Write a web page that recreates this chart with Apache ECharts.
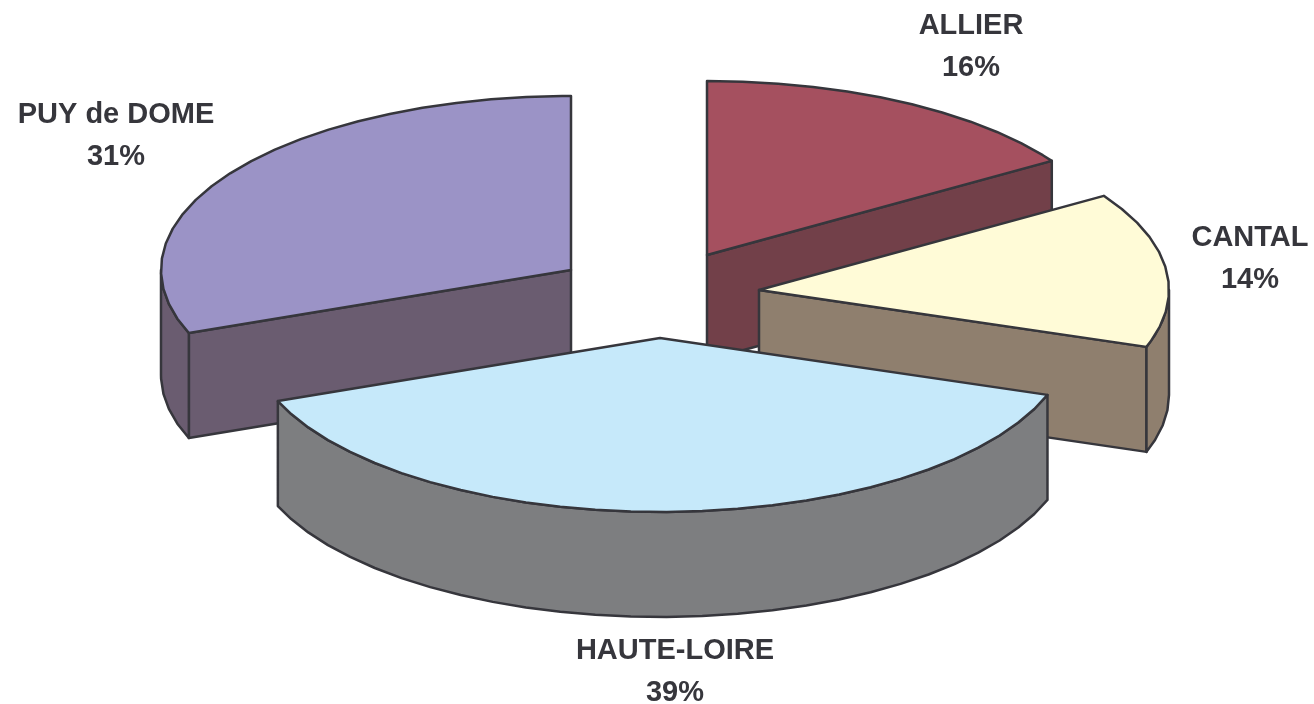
<!DOCTYPE html>
<html>
<head>
<meta charset="utf-8">
<title>Répartition par département</title>
<script src="https://cdn.jsdelivr.net/npm/echarts@6/dist/echarts.min.js"></script>
<style>
  html, body { margin: 0; padding: 0; background: #fff; }
  #chart { width: 1314px; height: 704px; }
</style>
</head>
<body>
<div id="chart"></div>
<script>
// data, clockwise from 12 o'clock
const sliceNames = ['ALLIER', 'CANTAL', 'HAUTE-LOIRE', 'PUY de DOME'];
const sliceValues = [15.9, 14.4, 38.8, 30.9];

// styles
const topColors = ['#a5505f', '#fffbd7', '#c6e9fa', '#9b93c6'];
const sideColors = ['#724049', '#8f7f6e', '#7d7e80', '#6a5c70'];
const edgeColor = '#36363c';

// layout: apex of each exploded slice, and where its label goes (px)
const apexX = [707, 759, 660, 571];
const apexY = [255, 290, 338, 270];
const labelX = [971, 1250, 675, 116];
const labelY = [26, 238, 651, 115];
const radiusX = 410;
const radiusY = 174;
const depth = 105;
const arcStep = 5; // degrees per outline segment, the original outline is faceted
const lineGap = 42;
const drawOrder = [3, 0, 1, 2]; // back to front

const total = sliceValues.reduce((a, b) => a + b, 0);
const startAngles = [];
let sum = 0;
sliceValues.forEach(v => {
  startAngles.push(sum / total * 360);
  sum += v;
});

function arcPoints(i, from, to, dy) {
  const pts = [];
  const push = deg => {
    const r = deg * Math.PI / 180;
    pts.push([apexX[i] + radiusX * Math.sin(r), apexY[i] - radiusY * Math.cos(r) + dy]);
  };
  for (let a = from; a < to; a += arcStep) push(a);
  push(to);
  return pts;
}

function poly(api, pts, fill) {
  return {
    type: 'polygon',
    shape: { points: pts.map(p => api.coord(p)) },
    style: { fill: fill, stroke: edgeColor, lineWidth: 2.5, lineJoin: 'round' }
  };
}

function renderSlice(params, api) {
  const i = api.value(0);
  const start = startAngles[i];
  const end = start + sliceValues[i] / total * 360;
  const apex = [apexX[i], apexY[i]];
  const children = [];

  // cut faces turned towards the viewer
  if (end < 180) {
    const p = arcPoints(i, end, end, 0)[0];
    children.push(poly(api, [apex, p, [p[0], p[1] + depth], [apex[0], apex[1] + depth]], sideColors[i]));
  }
  if (start > 180) {
    const p = arcPoints(i, start, start, 0)[0];
    children.push(poly(api, [apex, p, [p[0], p[1] + depth], [apex[0], apex[1] + depth]], sideColors[i]));
  }

  // outer wall, only the front half of the rim shows
  const wallFrom = Math.max(start, 90);
  const wallTo = Math.min(end, 270);
  if (wallFrom < wallTo) {
    const upper = arcPoints(i, wallFrom, wallTo, 0);
    const lower = arcPoints(i, wallFrom, wallTo, depth).reverse();
    children.push(poly(api, upper.concat(lower), sideColors[i]));
  }

  // top face
  children.push(poly(api, [apex].concat(arcPoints(i, start, end, 0)), topColors[i]));

  // label
  [sliceNames[i], Math.round(sliceValues[i] / total * 100) + '%'].forEach((t, k) => {
    const c = api.coord([labelX[i], labelY[i] + k * lineGap]);
    children.push({
      type: 'text',
      style: {
        text: t,
        x: c[0],
        y: c[1],
        fill: edgeColor,
        font: 'bold 29px "Liberation Sans", Arial, sans-serif',
        align: 'center',
        verticalAlign: 'middle'
      }
    });
  });

  return { type: 'group', children: children };
}

const chart = echarts.init(document.getElementById('chart'));
chart.setOption({
  animation: false,
  backgroundColor: '#fff',
  grid: { left: 0, right: 0, top: 0, bottom: 0 },
  xAxis: { type: 'value', min: 0, max: 1314, show: false },
  yAxis: { type: 'value', min: 0, max: 704, inverse: true, show: false },
  series: [{
    type: 'custom',
    coordinateSystem: 'cartesian2d',
    renderItem: renderSlice,
    encode: { x: 0, y: 1 },
    clip: false,
    silent: true,
    data: drawOrder.map(i => [i, sliceValues[i]])
  }]
});
</script>
</body>
</html>
